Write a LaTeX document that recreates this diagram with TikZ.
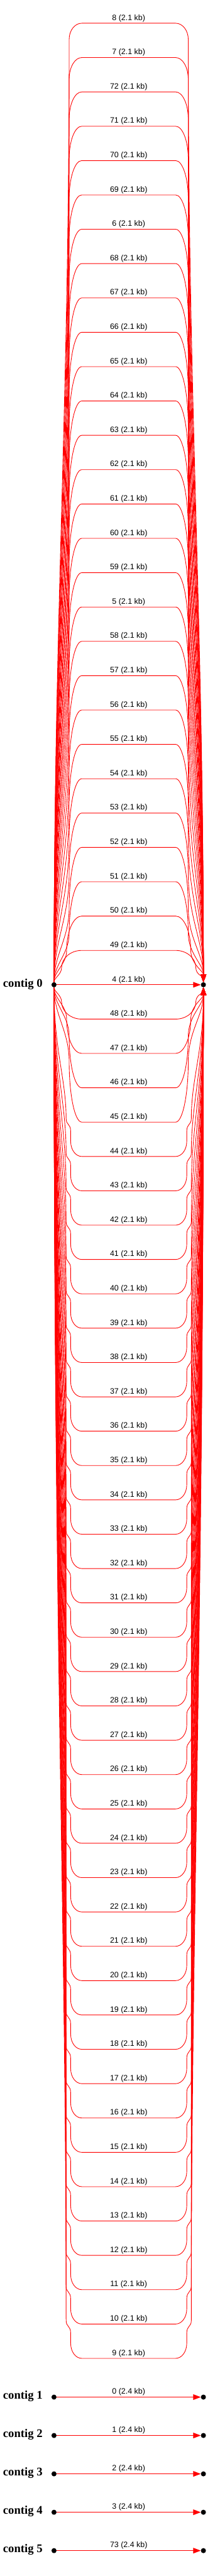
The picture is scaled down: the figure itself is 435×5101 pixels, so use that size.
\documentclass[tikz,border=0pt]{standalone}
\usepackage{fontspec}
\setmainfont{Liberation Serif}
\newfontfamily\edgefont{Liberation Sans}
\usetikzlibrary{arrows.meta,backgrounds}
\begin{document}
\begin{tikzpicture}[x=1pt,y=-1pt,
  dot/.style={circle,fill=black,inner sep=0pt,minimum size=10pt},
  edge/.style={draw=red,line width=1.1pt,-{Triangle[length=15pt,width=11pt]}},
  elabel/.style={font=\edgefont\fontsize{15.5}{18}\selectfont,anchor=base,inner sep=0pt},
  clabel/.style={font=\bfseries\fontsize{23.2}{26}\selectfont,anchor=base west,inner sep=0pt}]
\useasboundingbox (0,0) rectangle (435,5101);

% contig 0
\node[dot] (L0) at (107,1950) {};
\node[dot] (R0) at (403,1950) {};
\node[clabel] (c0) at (6,1954) {contig 0};

\begin{pgfonlayer}{background}
\draw[edge] (L0) -- (R0);
\end{pgfonlayer}
\node[elabel] (e4) at (255,1944) {4 (2.1 kb)};

% edges above
\foreach \lab [count=\k] in {49,50,51,52,53,54,55,56,57,58,5,59,60,61,62,63,64,65,66,67,68,6,69,70,71,72,7,8} {
  \pgfmathsetmacro\D{68*\k}
  \pgfmathsetmacro\ye{1950-\D}
  \pgfmathsetmacro\h{\k<21 ? min(0.5*\D,120) : 120-11*(\k-20)}
  \pgfmathsetmacro\xc{min(137,112+10*\k)}
  \pgfmathsetmacro\S{\D-\h}
  \pgfmathsetmacro\yA{\ye+\h}
  \pgfmathsetmacro\cA{1950-0.4*\S}
  \pgfmathsetmacro\cB{\yA+0.4*\S}
  \pgfmathsetmacro\yC{\ye+0.448*\h}
  \pgfmathsetmacro\xD{\xc+0.448*(162-\xc)}
  \pgfmathsetmacro\xcr{510-\xc}
  \pgfmathsetmacro\xDr{510-\xD}
  \begin{pgfonlayer}{background}
  \draw[edge] (L0) .. controls (107,\cA) and (\xc,\cB) .. (\xc,\yA)
     .. controls (\xc,\yC) and (\xD,\ye) .. (162,\ye) -- (348,\ye)
     .. controls (\xDr,\ye) and (\xcr,\yC) .. (\xcr,\yA)
     .. controls (\xcr,\cB) and (403,\cA) .. (R0);
  \end{pgfonlayer}
  \node[elabel] (ea\k) at (255,\ye-6) {\lab\ (2.1 kb)};
}

% edges below
\foreach \k in {1,...,40} {
  \pgfmathtruncatemacro\lab{49-\k}
  \pgfmathsetmacro\D{68*\k}
  \pgfmathsetmacro\ye{1950+\D}
  \ifnum\k<5
    \pgfmathsetmacro\h{min(0.5*\D,120)}
    \pgfmathsetmacro\xc{min(137,112+10*\k)}
    \pgfmathsetmacro\S{\D-\h}
    \pgfmathsetmacro\yA{\ye-\h}
    \pgfmathsetmacro\cA{1950+0.4*\S}
    \pgfmathsetmacro\cB{\yA-0.4*\S}
    \pgfmathsetmacro\yC{\ye-0.448*\h}
    \pgfmathsetmacro\xD{\xc+0.448*(162-\xc)}
    \pgfmathsetmacro\xcr{510-\xc}
    \pgfmathsetmacro\xDr{510-\xD}
    \begin{pgfonlayer}{background}
    \draw[edge] (L0) .. controls (107,\cA) and (\xc,\cB) .. (\xc,\yA)
       .. controls (\xc,\yC) and (\xD,\ye) .. (162,\ye) -- (348,\ye)
       .. controls (\xDr,\ye) and (\xcr,\yC) .. (\xcr,\yA)
       .. controls (\xcr,\cB) and (403,\cA) .. (R0);
    \end{pgfonlayer}
  \else
    \pgfmathsetmacro\S{\D-75}
    \pgfmathsetmacro\yA{\ye-75}
    \pgfmathsetmacro\cA{1950+0.5*\S}
    \pgfmathsetmacro\cB{\yA-0.3*\S}
    \begin{pgfonlayer}{background}
    \draw[edge] (L0) .. controls (107,\cA) and (131,\cB) .. (131,\yA)
       .. controls (131,\ye-62) and (140,\ye-65) .. (140,\ye-50)
       -- (140,\ye-30)
       .. controls (140,\ye-13) and (150,\ye) .. (162,\ye) -- (348,\ye)
       .. controls (360,\ye) and (370,\ye-13) .. (370,\ye-30)
       -- (370,\ye-50)
       .. controls (370,\ye-65) and (379,\ye-62) .. (379,\yA)
       .. controls (379,\cB) and (403,\cA) .. (R0);
    \end{pgfonlayer}
  \fi
  \node[elabel] (eb\k) at (255,\ye-6) {\lab\ (2.1 kb)};
}

% contigs 1-5
\foreach \i/\lab [count=\n] in {1/0,2/1,3/2,4/3,5/73} {
  \pgfmathsetmacro\yy{4746.7+76*(\n-1)}
  \node[dot] (L\i) at (107,\yy) {};
  \node[dot] (R\i) at (403,\yy) {};
  \node[clabel] (c\i) at (6,\yy+4) {contig \i};
  \begin{pgfonlayer}{background}
  \draw[edge] (L\i) -- (R\i);
  \end{pgfonlayer}
  \node[elabel] (es\i) at (255,\yy-6) {\lab\ (2.4 kb)};
}
\end{tikzpicture}
\end{document}
